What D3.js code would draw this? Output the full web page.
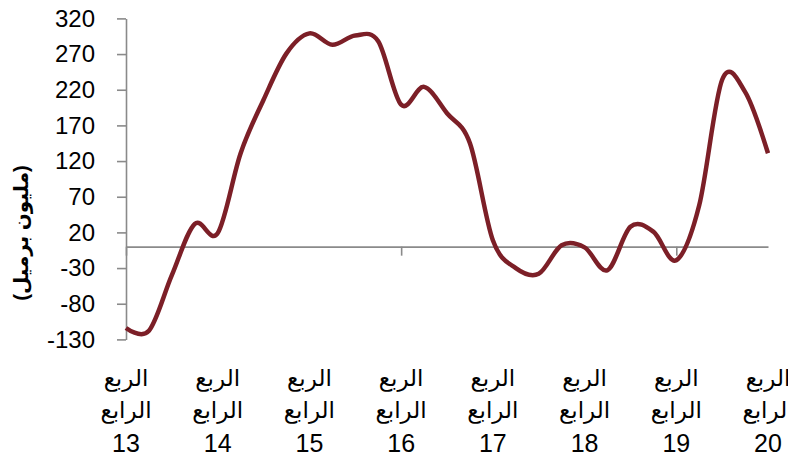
<!DOCTYPE html>
<html>
<head>
<meta charset="utf-8">
<script src="https://cdn.jsdelivr.net/npm/d3@7"></script>
<style>
  body { margin: 0; background: #fff; }
  text { font-family: "Liberation Sans", Arial, "DejaVu Sans", sans-serif; fill: #000; }
</style>
</head>
<body>
<div id="chart"></div>
<script>
// quarters from Q4 2013 to Q4 2020
var quarters = [
  "Q4-13", "Q1-14", "Q2-14", "Q3-14", "Q4-14",
  "Q1-15", "Q2-15", "Q3-15", "Q4-15",
  "Q1-16", "Q2-16", "Q3-16", "Q4-16",
  "Q1-17", "Q2-17", "Q3-17", "Q4-17",
  "Q1-18", "Q2-18", "Q3-18", "Q4-18",
  "Q1-19", "Q2-19", "Q3-19", "Q4-19",
  "Q1-20", "Q2-20", "Q3-20", "Q4-20"
];

// stock change (million barrels)
var values = [
  -114, -118, -40, 32, 19,
  131, 206, 271, 299,
  283, 296, 288, 199,
  224, 187, 145, 9,
  -30, -38, 2, -1,
  -33, 28, 21, -19,
  58, 234, 217, 131
];

var yTicks = [-130, -80, -30, 20, 70, 120, 170, 220, 270, 320];
var yearLabels = ["13", "14", "15", "16", "17", "18", "19", "20"];
var labelWord1 = "الربع";
var labelWord2 = "الرابع";
var yTitle = "(مليون برميل)";

var width = 788, height = 463;
var plotLeft = 126, plotRight = 768, plotTop = 18.4, plotBottom = 339.4;

var svg = d3.select("#chart").append("svg")
  .attr("width", width)
  .attr("height", height);

var x = d3.scalePoint()
  .domain(quarters)
  .range([plotLeft, plotRight]);

var y = d3.scaleLinear()
  .domain([-130, 320])
  .range([plotBottom, plotTop]);

var axisColor = "#8a8a8a";

// left axis (plain hyphen for negatives, like the original)
var yAxis = d3.axisLeft(y)
  .tickValues(yTicks)
  .tickSize(9)
  .tickSizeOuter(0)
  .tickPadding(22)
  .tickFormat(function(d) { return String(d); });

var gy = svg.append("g")
  .attr("transform", "translate(" + plotLeft + ",0)")
  .call(yAxis);
gy.select(".domain").attr("stroke", axisColor).attr("stroke-width", 1.6);
gy.selectAll(".tick line").attr("stroke", axisColor).attr("stroke-width", 1.6);
gy.selectAll(".tick text")
  .attr("font-size", 24)
  .attr("fill", "#000")
  .style("font-family", '"Liberation Sans", Arial, sans-serif');

// horizontal axis through zero, ticks every 12 quarters
var xAxis = d3.axisBottom(x)
  .tickValues(quarters.filter(function(d, i) { return i % 12 === 0; }))
  .tickSize(9)
  .tickSizeOuter(0)
  .tickFormat("");

var gx = svg.append("g")
  .attr("transform", "translate(0," + y(0) + ")")
  .call(xAxis);
gx.select(".domain").attr("stroke", axisColor).attr("stroke-width", 1.6);
gx.selectAll(".tick line").attr("stroke", axisColor).attr("stroke-width", 1.6);

// category labels at the bottom, one per year
var labelQuarters = quarters.filter(function(d, i) { return i % 4 === 0; });
var labels = svg.append("g").attr("class", "xLabels");
labelQuarters.forEach(function(q, i) {
  var t = labels.append("text")
    .attr("text-anchor", "middle")
    .attr("font-size", 23)
    .attr("x", x(q));
  t.append("tspan").attr("x", x(q)).attr("y", 386).text(labelWord1);
  t.append("tspan").attr("x", x(q)).attr("y", 418).text(labelWord2);
  t.append("tspan").attr("x", x(q)).attr("y", 452).attr("font-size", 25).text(yearLabels[i]);
});

// y title
svg.append("text")
  .attr("transform", "translate(28," + 233 + ")rotate(-90)")
  .attr("text-anchor", "middle")
  .attr("font-size", 20)
  .attr("font-weight", "bold")
  .text(yTitle);

// line
var line = d3.line()
  .x(function(d, i) { return x(quarters[i]); })
  .y(function(d) { return y(d); })
  .curve(d3.curveCardinal.tension(0));

svg.append("path")
  .datum(values)
  .attr("fill", "none")
  .attr("stroke", "#7c1f27")
  .attr("stroke-width", 4.5)
  .attr("stroke-linejoin", "round")
  .attr("d", line);
</script>
</body>
</html>
